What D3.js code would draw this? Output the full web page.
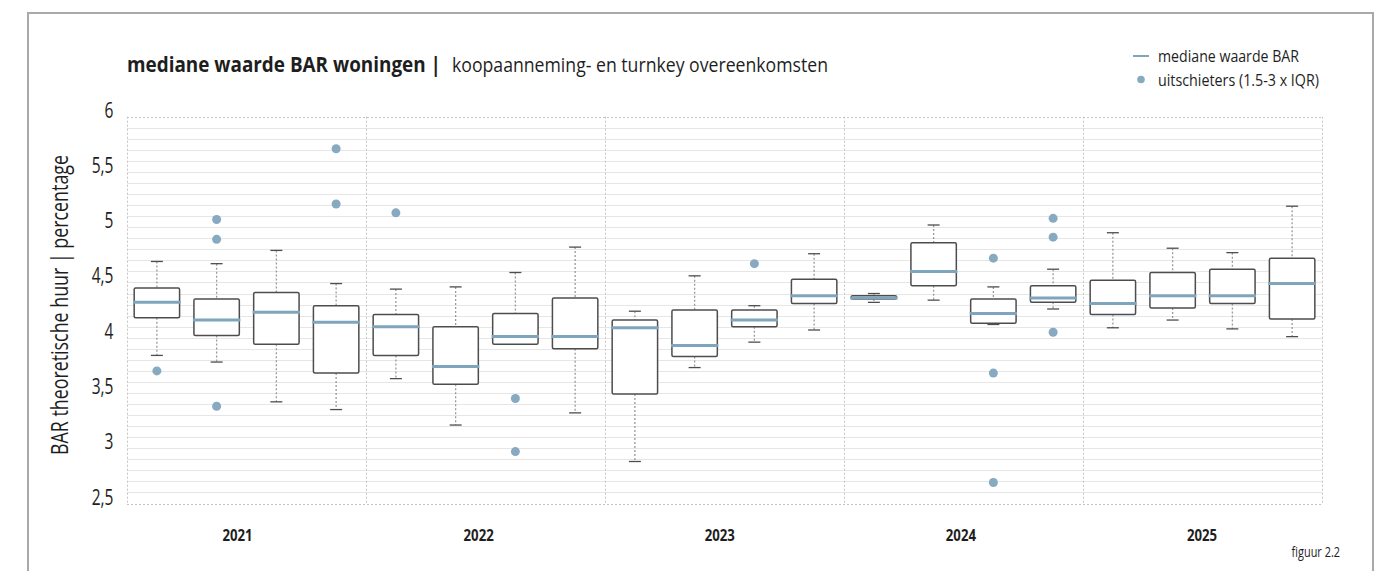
<!DOCTYPE html>
<html>
<head>
<meta charset="utf-8">
<script src="https://cdn.jsdelivr.net/npm/d3@7"></script>
<style>
  html, body { margin: 0; padding: 0; background: #fff; }
  svg { display: block; font-family: "Open Sans", "Noto Sans", sans-serif; }
</style>
</head>
<body>
<svg id="chart" width="1383" height="571"></svg>
<script>
// Jaren en kwartalen op de x-as
const years = ["2021", "2022", "2023", "2024", "2025"];
const quarters = ["1", "2", "3", "4"];

// Boxplot-statistieken per kwartaal (20 kwartalen, 2021-1 t/m 2025-4)
const whiskerHigh = [4.69, 4.67, 4.79, 4.49,  4.44, 4.46, 4.59, 4.82,  4.24, 4.56, 4.29, 4.76,  4.40, 5.02, 4.46, 4.62,  4.95, 4.81, 4.77, 5.19];
const q3Values    = [4.45, 4.35, 4.41, 4.29,  4.21, 4.10, 4.22, 4.36,  4.16, 4.25, 4.25, 4.53,  4.38, 4.86, 4.35, 4.47,  4.52, 4.59, 4.62, 4.72];
const medians     = [4.32, 4.16, 4.23, 4.14,  4.10, 3.74, 4.01, 4.01,  4.09, 3.93, 4.16, 4.38,  4.36, 4.60, 4.22, 4.36,  4.31, 4.38, 4.38, 4.49];
const q1Values    = [4.18, 4.02, 3.94, 3.68,  3.84, 3.58, 3.94, 3.90,  3.49, 3.83, 4.10, 4.31,  4.35, 4.47, 4.13, 4.32,  4.21, 4.27, 4.31, 4.17];
const whiskerLow  = [3.84, 3.78, 3.42, 3.35,  3.63, 3.21, 3.94, 3.32,  2.88, 3.73, 3.96, 4.07,  4.32, 4.34, 4.12, 4.26,  4.09, 4.16, 4.08, 4.01];

// Uitschieters: [kwartaalindex, waarde]
const outliers = [
  [0, 3.70], [1, 5.07], [1, 4.89], [1, 3.38], [3, 5.71], [3, 5.21],
  [4, 5.13], [6, 3.45], [6, 2.97], [10, 4.67],
  [14, 4.72], [14, 3.68], [14, 2.69], [15, 5.08], [15, 4.91], [15, 4.05]
];

// Y-as ticks
const yTicks = [2.5, 3, 3.5, 4, 4.5, 5, 5.5, 6];

const title = "mediane waarde BAR woningen |";
const subtitle = "koopaanneming- en turnkey overeenkomsten";
const yTitle = "BAR theoretische huur | percentage";
const legendLabels = ["mediane waarde BAR", "uitschieters (1.5-3 x IQR)"];
const figureLabel = "figuur 2.2";

// ---- opmaak ----
const medianColor = "#7fa5bc";
const dotColor = "#88aac1";
const boxStroke = "#4d4d4d";
const textColor = "#1e1e1e";

const svg = d3.select("#chart");
const plot = { left: 127, right: 1322, top: 116.7, bottom: 503.5 };

const yScale = d3.scaleLinear().domain([2.5, 6]).range([plot.bottom, plot.top]);
const xYear = d3.scaleBand().domain(years).range([plot.left, plot.right]);
const xQuarter = d3.scaleBand().domain(quarters).range([0, xYear.bandwidth()])
  .paddingInner(0.24).paddingOuter(0.12);
// jaarlabels staan op een eigen, iets smallere spoor onder de as
const xLabel = d3.scalePoint().domain(years).range([237.5, 1202]);

const boxes = whiskerHigh.map((_, i) => ({
  year: years[Math.floor(i / 4)],
  quarter: quarters[i % 4],
  hi: whiskerHigh[i], q3: q3Values[i], med: medians[i], q1: q1Values[i], lo: whiskerLow[i]
}));
const boxX = d => xYear(d.year) + xQuarter(d.quarter);
const boxCx = d => boxX(d) + xQuarter.bandwidth() / 2;

// buitenkader
svg.append("path")
  .attr("d", "M28,580V13H1373V580")
  .attr("fill", "none").attr("stroke", "#a9a9a9").attr("stroke-width", 2);

// horizontale rasterlijnen per 0,1
const gridVals = d3.range(26, 60).map(v => v / 10);
svg.append("g").selectAll("line").data(gridVals).join("line")
  .attr("x1", plot.left).attr("x2", plot.right)
  .attr("y1", d => Math.round(yScale(d)) + 0.5).attr("y2", d => Math.round(yScale(d)) + 0.5)
  .attr("stroke", "#e6e6e6").attr("stroke-width", 1);

// gestippelde randen en jaarscheidingen
const dotted = svg.append("g").attr("stroke", "#c4c4c4").attr("stroke-width", 1)
  .attr("stroke-dasharray", "2,2");
[2.5, 6].forEach(v => {
  dotted.append("line").attr("x1", plot.left).attr("x2", plot.right)
    .attr("y1", Math.round(yScale(v)) + 0.5).attr("y2", Math.round(yScale(v)) + 0.5);
});
const seps = years.map(y => xYear(y)).concat([plot.right]);
dotted.selectAll("line.sep").data(seps).join("line").attr("class", "sep")
  .attr("x1", d => Math.round(d) + 0.5).attr("x2", d => Math.round(d) + 0.5)
  .attr("y1", plot.top).attr("y2", plot.bottom);

// y-as labels (basislijn op de rasterlijn)
const yLab = svg.append("g").selectAll("g").data(yTicks).join("g")
  .attr("transform", d => `translate(113.5,${yScale(d) + 1}) scale(0.74,1)`);
yLab.append("text")
  .attr("text-anchor", "end").attr("font-size", 21).attr("fill", textColor)
  .text(d => String(d).replace(".", ","));

// y-as titel
svg.append("text")
  .attr("transform", `translate(68,${(155 + 455) / 2}) rotate(-90)`)
  .attr("text-anchor", "middle").attr("font-size", 24).attr("fill", textColor)
  .attr("textLength", 300).attr("lengthAdjust", "spacingAndGlyphs")
  .text(yTitle);

// x-as labels
svg.append("g").selectAll("g").data(years).join("g")
  .attr("transform", d => `translate(${xLabel(d)},541) scale(0.8,1)`)
  .append("text").attr("text-anchor", "middle").attr("font-size", 16.5)
  .attr("font-weight", "bold").attr("fill", textColor).text(d => d);

// boxplots
const g = svg.append("g").selectAll("g").data(boxes).join("g");
const capW = 12;
// snorharen
g.append("line").attr("x1", boxCx).attr("x2", boxCx)
  .attr("y1", d => yScale(d.hi)).attr("y2", d => yScale(d.q3))
  .attr("stroke", "#9a9a9a").attr("stroke-width", 1.3).attr("stroke-dasharray", "2,2");
g.append("line").attr("x1", boxCx).attr("x2", boxCx)
  .attr("y1", d => yScale(d.q1)).attr("y2", d => yScale(d.lo))
  .attr("stroke", "#9a9a9a").attr("stroke-width", 1.3).attr("stroke-dasharray", "2,2");
g.append("line").attr("x1", d => boxCx(d) - capW / 2).attr("x2", d => boxCx(d) + capW / 2)
  .attr("y1", d => yScale(d.hi)).attr("y2", d => yScale(d.hi))
  .attr("stroke", boxStroke).attr("stroke-width", 1.3);
g.append("line").attr("x1", d => boxCx(d) - capW / 2).attr("x2", d => boxCx(d) + capW / 2)
  .attr("y1", d => yScale(d.lo)).attr("y2", d => yScale(d.lo))
  .attr("stroke", boxStroke).attr("stroke-width", 1.3);
// doos
g.append("rect")
  .attr("x", boxX).attr("width", xQuarter.bandwidth())
  .attr("y", d => yScale(d.q3)).attr("height", d => yScale(d.q1) - yScale(d.q3))
  .attr("rx", 1.5)
  .attr("fill", "#fff").attr("stroke", boxStroke).attr("stroke-width", 1.5);
// mediaan
g.append("line")
  .attr("x1", d => boxX(d) - 1).attr("x2", d => boxX(d) + xQuarter.bandwidth() + 1)
  .attr("y1", d => yScale(d.med)).attr("y2", d => yScale(d.med))
  .attr("stroke", medianColor).attr("stroke-width", 3);

// uitschieters
svg.append("g").selectAll("circle").data(outliers).join("circle")
  .attr("cx", d => boxCx(boxes[d[0]])).attr("cy", d => yScale(d[1]))
  .attr("r", 4.5).attr("fill", dotColor);

// titel
svg.append("text").attr("x", 127).attr("y", 72)
  .attr("font-size", 20.5).attr("font-weight", "bold").attr("fill", textColor)
  .attr("textLength", 314).attr("lengthAdjust", "spacingAndGlyphs")
  .text(title);
svg.append("text").attr("x", 452).attr("y", 72)
  .attr("font-size", 20.5).attr("fill", textColor)
  .attr("textLength", 376).attr("lengthAdjust", "spacingAndGlyphs")
  .text(subtitle);

// legenda
const legend = svg.append("g");
legend.append("line").attr("x1", 1133).attr("x2", 1149).attr("y1", 56).attr("y2", 56)
  .attr("stroke", medianColor).attr("stroke-width", 2);
legend.append("circle").attr("cx", 1141).attr("cy", 79.5).attr("r", 3.8).attr("fill", dotColor);
legend.selectAll("text").data(legendLabels).join("text")
  .attr("x", 1158).attr("y", (d, i) => 62 + i * 23.5)
  .attr("font-size", 16.5).attr("fill", textColor)
  .attr("textLength", (d, i) => i === 0 ? 141 : 161).attr("lengthAdjust", "spacingAndGlyphs")
  .text(d => d);

// figuurnummer
svg.append("g").attr("transform", "translate(1340,557) scale(0.78,1)")
  .append("text").attr("text-anchor", "end").attr("font-size", 14).attr("fill", textColor)
  .text(figureLabel);
</script>
</body>
</html>
